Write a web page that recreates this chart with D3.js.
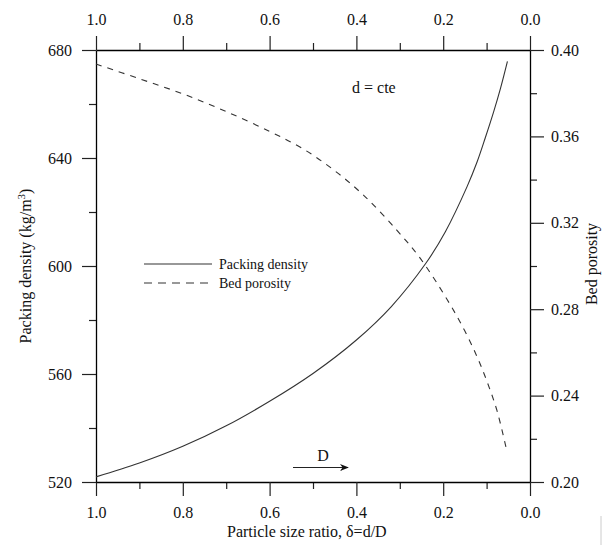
<!DOCTYPE html>
<html>
<head>
<meta charset="utf-8">
<script src="https://cdn.jsdelivr.net/npm/d3@7"></script>
<style>
  html, body { margin: 0; padding: 0; background: #fff; }
  svg { display: block; }
  svg text { font-family: "Liberation Serif", "Times New Roman", serif !important; fill: #111; }
</style>
</head>
<body>
<svg id="chart" width="608" height="545"></svg>
<script>
// ---- data ----
const deltaDensity = [1.0, 0.9, 0.8, 0.7, 0.6, 0.5, 0.4, 0.32, 0.24, 0.195, 0.145, 0.122, 0.103, 0.084, 0.068, 0.052];
const packingDensity = [521.9, 527.0, 533.2, 540.8, 549.9, 560.2, 572.6, 584.9, 601.0, 612.7, 629.4, 638.5, 647.5, 657.0, 665.8, 675.8];

const deltaPorosity = [1.0, 0.9, 0.8, 0.7, 0.6, 0.525, 0.4525, 0.382, 0.3065, 0.2527, 0.191, 0.153, 0.122, 0.099, 0.076, 0.053];
const bedPorosity = [0.3935, 0.3867, 0.3797, 0.3715, 0.3623, 0.3545, 0.3445, 0.3325, 0.3165, 0.3035, 0.2845, 0.2710, 0.2580, 0.2465, 0.2330, 0.2140];

const xMajorTicks = [1.0, 0.8, 0.6, 0.4, 0.2, 0.0];
const xMinorTicks = [0.9, 0.7, 0.5, 0.3, 0.1];
const leftMajorTicks = [520, 560, 600, 640, 680];
const leftMinorTicks = [540, 580, 620, 660];
const rightMajorTicks = [0.20, 0.24, 0.28, 0.32, 0.36, 0.40];
const rightMinorTicks = [0.22, 0.26, 0.30, 0.34, 0.38];

const seriesNames = ["Packing density", "Bed porosity"];
const xTitle = "Particle size ratio, δ=d/D";
const rightTitle = "Bed porosity";
const annotation = "d = cte";
const arrowLabel = "D";

// ---- layout ----
const L = 96, R = 530, T = 50, B = 482;
const svg = d3.select("#chart");

const x = d3.scaleLinear().domain([1.0, 0.0]).range([L, R]);
const yL = d3.scaleLinear().domain([520, 680]).range([B, T]);
const yR = d3.scaleLinear().domain([0.20, 0.40]).range([B, T]);

const FS = 16;
const SERIF = "Liberation Serif, Times New Roman, serif";

function styleAxis(g, keepDomain) {
  g.attr("font-family", SERIF).attr("font-size", FS);
  if (keepDomain) g.selectAll("path.domain").attr("stroke", "#000").attr("stroke-width", 1.3);
  else g.selectAll("path.domain").remove();
  g.selectAll(".tick line").attr("stroke", "#222").attr("stroke-width", 1.2);
  g.selectAll("text").attr("font-family", SERIF).attr("font-size", FS).attr("fill", "#111");
}

// minor ticks
svg.append("g").attr("transform", `translate(0,${B})`)
  .call(d3.axisBottom(x).tickValues(xMinorTicks).tickSize(7).tickFormat("")).call(styleAxis, false);
svg.append("g").attr("transform", `translate(0,${T})`)
  .call(d3.axisTop(x).tickValues(xMinorTicks).tickSize(7).tickFormat("")).call(styleAxis, false);
svg.append("g").attr("transform", `translate(${L},0)`)
  .call(d3.axisLeft(yL).tickValues(leftMinorTicks).tickSize(7).tickFormat("")).call(styleAxis, false);
svg.append("g").attr("transform", `translate(${R},0)`)
  .call(d3.axisRight(yR).tickValues(rightMinorTicks).tickSize(7).tickFormat("")).call(styleAxis, false);

// major ticks
svg.append("g").attr("transform", `translate(0,${B})`)
  .call(d3.axisBottom(x).tickValues(xMajorTicks).tickSize(14).tickPadding(11).tickFormat(d3.format(".1f")).tickSizeOuter(0)).call(styleAxis, true);
svg.append("g").attr("transform", `translate(0,${T})`)
  .call(d3.axisTop(x).tickValues(xMajorTicks).tickSize(14).tickPadding(11).tickFormat(d3.format(".1f")).tickSizeOuter(0)).call(styleAxis, true);
svg.append("g").attr("transform", `translate(${L},0)`)
  .call(d3.axisLeft(yL).tickValues(leftMajorTicks).tickSize(14).tickPadding(10).tickFormat(d3.format("d")).tickSizeOuter(0)).call(styleAxis, true);
svg.append("g").attr("transform", `translate(${R},0)`)
  .call(d3.axisRight(yR).tickValues(rightMajorTicks).tickSize(14).tickPadding(7).tickFormat(d3.format(".2f")).tickSizeOuter(0)).call(styleAxis, true);

// ---- curves ----
const densityData = deltaDensity.map((d, i) => ({ d, v: packingDensity[i] }));
const porosityData = deltaPorosity.map((d, i) => ({ d, v: bedPorosity[i] }));

svg.append("path").datum(densityData)
  .attr("fill", "none").attr("stroke", "#333").attr("stroke-width", 1.1)
  .attr("d", d3.line().x(p => x(p.d)).y(p => yL(p.v)).curve(d3.curveCatmullRom.alpha(0.5)));

svg.append("path").datum(porosityData)
  .attr("fill", "none").attr("stroke", "#333").attr("stroke-width", 1.1)
  .attr("stroke-dasharray", "6,6")
  .attr("d", d3.line().x(p => x(p.d)).y(p => yR(p.v)).curve(d3.curveCatmullRom.alpha(0.5)));

// ---- legend ----
const leg = svg.append("g");
leg.append("line").attr("x1", 144).attr("x2", 212).attr("y1", 264).attr("y2", 264)
  .attr("stroke", "#333").attr("stroke-width", 1.1);
leg.append("text").attr("x", 219).attr("y", 268.5).attr("font-size", 14).text(seriesNames[0]);
leg.append("line").attr("x1", 144).attr("x2", 212).attr("y1", 283).attr("y2", 283)
  .attr("stroke", "#333").attr("stroke-width", 1.1).attr("stroke-dasharray", "8,6");
leg.append("text").attr("x", 219).attr("y", 287.5).attr("font-size", 14).text(seriesNames[1]);

// ---- annotations ----
svg.append("text").attr("x", 352).attr("y", 93).attr("font-size", FS).text(annotation);

svg.append("defs").append("marker")
  .attr("id", "arrowhead").attr("viewBox", "0 0 10 10").attr("refX", 9).attr("refY", 5)
  .attr("markerWidth", 9).attr("markerHeight", 9).attr("markerUnits", "userSpaceOnUse").attr("orient", "auto")
  .append("path").attr("d", "M0,1 L10,5 L0,9 L3,5 Z").attr("fill", "#111");
svg.append("line").attr("x1", 293).attr("x2", 348).attr("y1", 467.5).attr("y2", 467.5)
  .attr("stroke", "#222").attr("stroke-width", 1.2).attr("marker-end", "url(#arrowhead)");
svg.append("text").attr("x", 323).attr("y", 461).attr("text-anchor", "middle").attr("font-size", FS).text(arrowLabel);

// ---- axis titles ----
svg.append("text").attr("x", 227).attr("y", 537).attr("font-size", FS).text(xTitle);

const lt = svg.append("text").attr("transform", `translate(31,266) rotate(-90)`)
  .attr("text-anchor", "middle").attr("font-size", FS);
lt.append("tspan").text("Packing density (kg/m");
lt.append("tspan").attr("dy", -6).attr("font-size", 11).text("3");
lt.append("tspan").attr("dy", 6).text(")");

svg.append("text").attr("transform", `translate(597,264) rotate(-90)`)
  .attr("text-anchor", "middle").attr("font-size", FS).text(rightTitle);

// scan artifact edge line
svg.append("line").attr("x1", 601).attr("x2", 601).attr("y1", 516).attr("y2", 545)
  .attr("stroke", "#ccc").attr("stroke-width", 1);
</script>
</body>
</html>
